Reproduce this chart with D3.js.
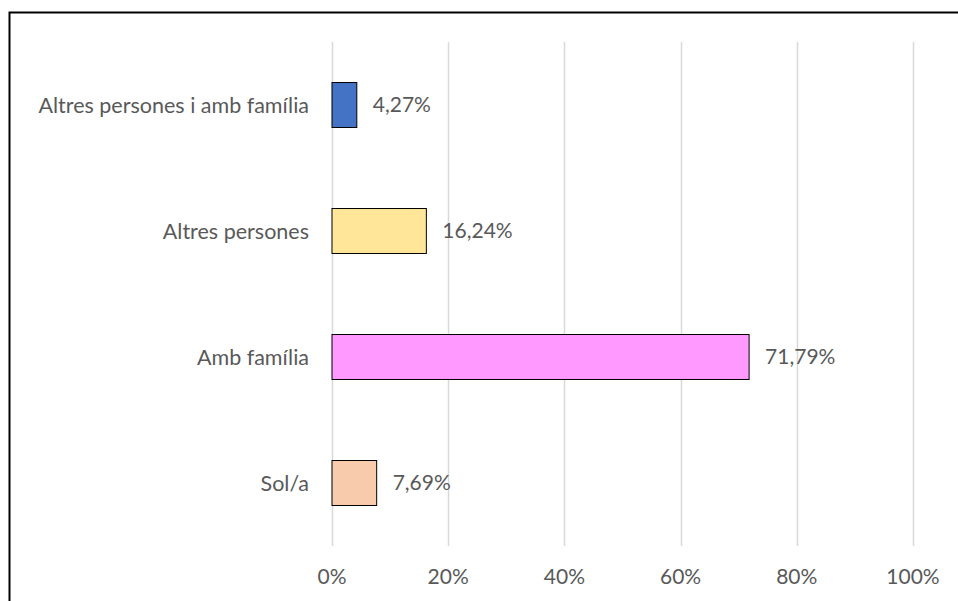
<!DOCTYPE html>
<html>
<head>
<meta charset="utf-8">
<script src="https://cdn.jsdelivr.net/npm/d3@7"></script>
<style>
  body { margin: 0; background: #fff; }
  svg text { font-family: Lato, "Open Sans", sans-serif; fill: #595959; font-size: 21px; }
</style>
</head>
<body>
<div id="chart"></div>
<script>
var w = 958;
var h = 601;

var categories = ["Altres persones i amb família", "Altres persones", "Amb família", "Sol/a"];
var values = [4.27, 16.24, 71.79, 7.69];
var labels = ["4,27%", "16,24%", "71,79%", "7,69%"];
var colors = ["#4472C4", "#FFE699", "#FF99FF", "#F8CBAD"];
var ticks = [0, 20, 40, 60, 80, 100];

var svg = d3.select("#chart").append("svg")
            .attr("width", w)
            .attr("height", h);

// outer frame (only top and left sides are inside the picture)
svg.append("rect")
   .attr("x", 9.5).attr("y", 12.5)
   .attr("width", w + 20).attr("height", h + 20)
   .attr("fill", "none")
   .attr("stroke", "#000")
   .attr("stroke-width", 2);

var x = d3.scaleLinear().domain([0, 100]).range([332, 913]);
var y = d3.scaleBand().domain(categories).range([42, 546])
          .paddingInner(0.643).paddingOuter(0.3215);

// gridlines
svg.selectAll("line.grid")
   .data(ticks)
   .enter()
   .append("line")
   .attr("class", "grid")
   .attr("x1", function(d) { return Math.round(x(d)) + 0.5; })
   .attr("x2", function(d) { return Math.round(x(d)) + 0.5; })
   .attr("y1", 42)
   .attr("y2", 546)
   .attr("stroke", "#D9D9D9")
   .attr("stroke-width", 1.5);

// tick labels
svg.selectAll("text.tick")
   .data(ticks)
   .enter()
   .append("text")
   .attr("class", "tick")
   .attr("x", function(d) { return x(d); })
   .attr("y", 577)
   .attr("dy", "0.35em")
   .attr("text-anchor", "middle")
   .text(function(d) { return d + "%"; });

// bars
svg.selectAll("rect.bar")
   .data(categories)
   .enter()
   .append("rect")
   .attr("class", "bar")
   .attr("x", x(0))
   .attr("y", function(d) { return y(d); })
   .attr("width", function(d, i) { return x(values[i]) - x(0); })
   .attr("height", y.bandwidth())
   .attr("fill", function(d, i) { return colors[i]; })
   .attr("stroke", "#000")
   .attr("stroke-width", 1);

// category labels
svg.selectAll("text.cat")
   .data(categories)
   .enter()
   .append("text")
   .attr("class", "cat")
   .attr("x", 309)
   .attr("y", function(d) { return y(d) + y.bandwidth() / 2; })
   .attr("dy", "0.35em")
   .attr("text-anchor", "end")
   .style("font-size", "21.5px")
   .text(function(d) { return d; });

// value labels
svg.selectAll("text.val")
   .data(categories)
   .enter()
   .append("text")
   .attr("class", "val")
   .attr("x", function(d, i) { return x(values[i]) + 16; })
   .attr("y", function(d) { return y(d) + y.bandwidth() / 2; })
   .attr("dy", "0.35em")
   .text(function(d, i) { return labels[i]; });
</script>
</body>
</html>
